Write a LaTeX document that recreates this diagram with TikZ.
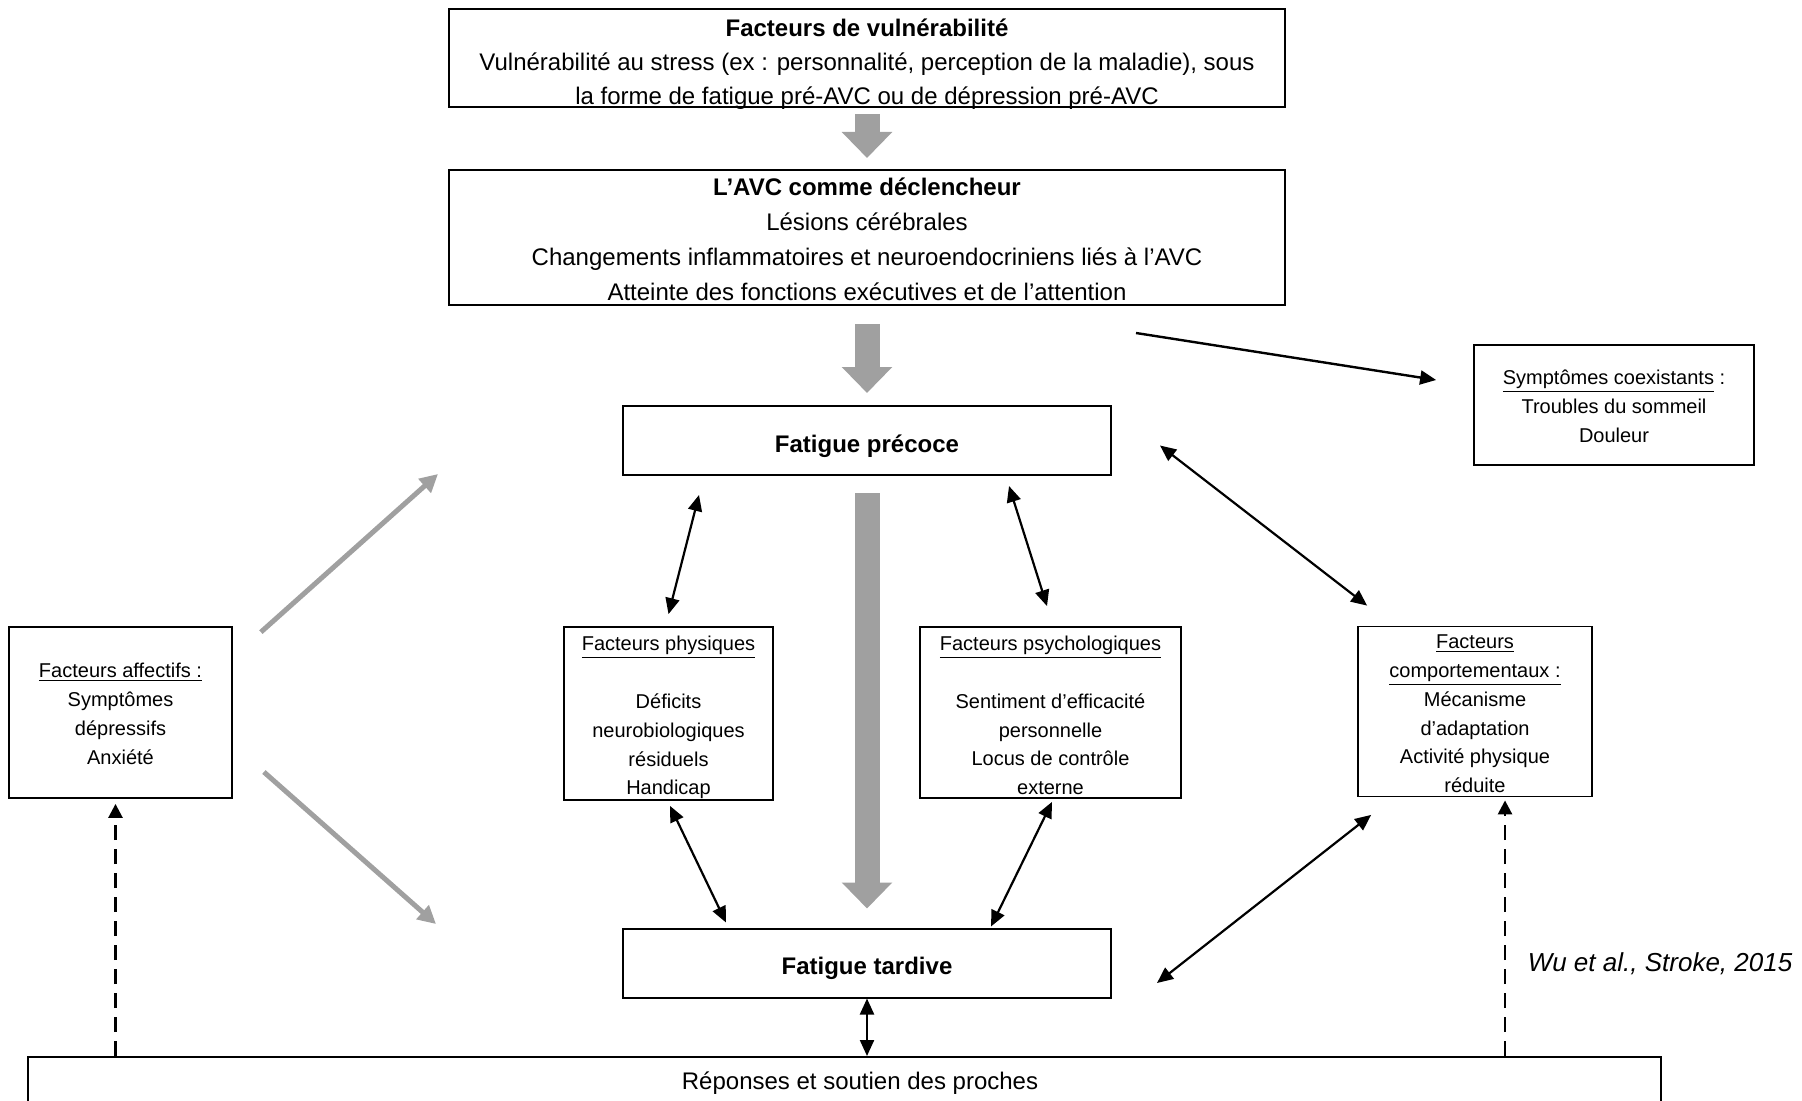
\documentclass[tikz,border=0pt]{standalone}
\usepackage{fontspec}
\setmainfont{Liberation Sans}
\usepackage{tikz}
\usetikzlibrary{arrows.meta,positioning}
\definecolor{arrgray}{RGB}{160,160,160}

\begin{document}
\begin{tikzpicture}[
  x=0.5pt, y=-0.5pt,
  box/.style={draw,line width=1pt,inner sep=0pt,align=center,font=\fontsize{12}{17.5}\selectfont},
  fatigue/.style={box,minimum width=244pt,minimum height=34.5pt,text height=11.8pt,text depth=0pt,font=\bfseries\fontsize{12}{17}\selectfont},
  smallbox/.style={draw,line width=0.9pt,inner sep=0pt,align=center,font=\fontsize{10}{14.4}\selectfont},
  bigarr/.style={-{Triangle[length=13pt,width=24.5pt]},line width=12.5pt,arrgray},
  grayarr/.style={-{Triangle[length=9pt,width=9pt]},line width=2.5pt,arrgray},
  arr/.style={-{Triangle[length=8pt,width=7pt]},line width=1.2pt},
  dbl/.style={{Triangle[length=8pt,width=7pt]}-{Triangle[length=8pt,width=7pt]},line width=1.1pt},
  dasharr/.style={-{Triangle[length=7pt,width=7pt]},line width=1.3pt,dash pattern=on 7.5pt off 4.5pt}
]
  \useasboundingbox (0,0) rectangle (1802,1101);

  \node[box,minimum width=418pt,minimum height=49pt,font=\fontsize{12}{17}\selectfont] (vuln) at (867,58) {\rule{0pt}{12.8pt}\textbf{Facteurs de vulnérabilité}\\Vulnérabilité au stress (ex : personnalité, perception de la maladie), sous\\\raisebox{0pt}[\height][0pt]{la forme de fatigue pré-AVC ou de dépression pré-AVC}};
  \node[box,minimum width=418pt,minimum height=67.5pt] (avc) at (867,237.5) {\rule{0pt}{10.5pt}\textbf{L’AVC comme déclencheur}\\Lésions cérébrales\\Changements inflammatoires et neuroendocriniens liés à l’AVC\\Atteinte des fonctions exécutives et de l’attention};
  \node[fatigue] (precoce) at (867,440.5) {Fatigue précoce};
  \node[smallbox,minimum width=140pt,minimum height=60pt] (coexist) at (1614,405) {\rule{0pt}{8.8pt}\underline{Symptômes coexistants} :\\Troubles du sommeil\\Douleur};

  \node[smallbox,minimum width=111.5pt,minimum height=85.5pt] (affect) at (120.5,712.5) {\rule{0pt}{8.5pt}\underline{Facteurs affectifs :}\\Symptômes\\dépressifs\\Anxiété};
  \node[smallbox,minimum width=104.5pt,minimum height=86.5pt] (phys) at (668.5,713.5) {\rule{0pt}{11.5pt}\underline{Facteurs physiques}\\[14.4pt]Déficits\\neurobiologiques\\résiduels\\Handicap};
  \node[smallbox,minimum width=130.5pt,minimum height=85.5pt] (psych) at (1050.5,712.5) {\rule{0pt}{10.2pt}\underline{Facteurs psychologiques}\\[14.4pt]Sentiment d’efficacité\\personnelle\\Locus de contrôle\\externe};
  \node[smallbox,minimum width=117pt,minimum height=85pt] (comport) at (1475,711.5) {\rule{0pt}{9.2pt}\underline{Facteurs}\\\underline{comportementaux :}\\Mécanisme\\d’adaptation\\Activité physique\\réduite};

  \node[fatigue] (tardive) at (867,963) {Fatigue tardive};
  \node[font=\itshape\fontsize{13}{17}\selectfont] (wu) at (1660,963.5) {Wu et al., Stroke, 2015};
  \node[box,minimum width=816.5pt,minimum height=26pt] (reponses) at (844.5,1083) {\hspace*{15.5pt}Réponses et soutien des proches};

  \draw[bigarr,shorten <=3pt,shorten >=5.5pt] (vuln) -- (avc);
  \draw[bigarr,shorten <=9pt,shorten >=6pt] (avc) -- (precoce);
  \draw[bigarr,shorten <=8.5pt,shorten >=9.5pt] (precoce) -- (tardive);

  \draw[arr] ([shift={(-150,27)}]avc.south east) -- ([shift={(-37,-25)}]coexist.west);

  \draw[dbl] ([shift={(0,-12)}]phys.north) -- ([shift={(-168,19)}]precoce.south);
  \draw[dbl] ([shift={(-3.5,-20)}]psych.north) -- ([shift={(142,10)}]precoce.south);
  \draw[dbl] ([shift={(10,-20)}]comport.north west) -- ([shift={(48,5)}]precoce.east);
  \draw[dbl] ([shift={(1.5,5)}]phys.south) -- ([shift={(-141,-5)}]tardive.north);
  \draw[dbl] ([shift={(1.5,3)}]psych.south) -- ([shift={(124,-1)}]tardive.north);
  \draw[dbl] ([shift={(14,17.5)}]comport.south west) -- ([shift={(45,20)}]tardive.east);
  \draw[dbl] (tardive.south) -- (tardive.south |- reponses.north);

  \draw[grayarr] ([shift={(28,6)}]affect.north east) -- ([shift={(-184,33.5)}]precoce.west);
  \draw[grayarr] ([shift={(31,59.5)}]affect.east) -- ([shift={(-186,-39)}]tardive.west);

  \draw[dasharr,shorten >=2.5pt] ([xshift=-2.5pt]reponses.north -| affect.south) -- ([xshift=-2.5pt]affect.south);
  \draw[dasharr,shorten >=1.5pt] ([xshift=15pt]reponses.north -| comport.south) -- ([xshift=15pt]comport.south);
\end{tikzpicture}
\end{document}
